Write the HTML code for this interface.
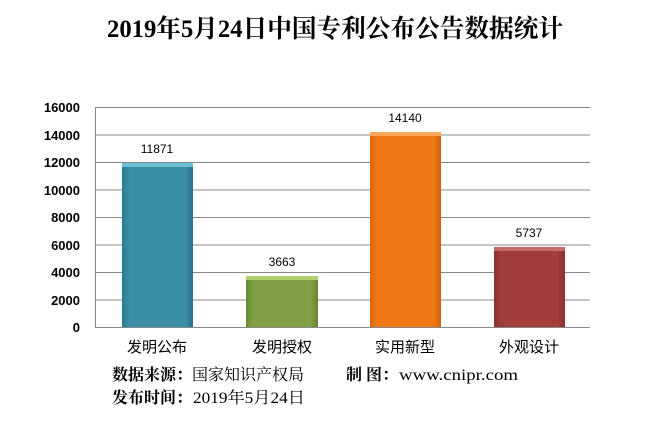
<!DOCTYPE html>
<html><head><meta charset="utf-8"><style>
body{margin:0;background:#fff;}
</style></head><body>
<svg width="650" height="426" xmlns="http://www.w3.org/2000/svg" style="display:block">
<defs>
<linearGradient id="b" x1="0" x2="1"><stop offset="0" stop-color="#2a7a90"/><stop offset=".1" stop-color="#3a8ea6"/><stop offset=".9" stop-color="#3a8ea6"/><stop offset="1" stop-color="#2a7185"/></linearGradient>
<linearGradient id="g" x1="0" x2="1"><stop offset="0" stop-color="#6a8a32"/><stop offset=".1" stop-color="#80a043"/><stop offset=".9" stop-color="#80a043"/><stop offset="1" stop-color="#66832f"/></linearGradient>
<linearGradient id="o" x1="0" x2="1"><stop offset="0" stop-color="#d8650d"/><stop offset=".1" stop-color="#f07814"/><stop offset=".9" stop-color="#f07814"/><stop offset="1" stop-color="#d0600c"/></linearGradient>
<linearGradient id="r" x1="0" x2="1"><stop offset="0" stop-color="#8a3030"/><stop offset=".1" stop-color="#a13d3b"/><stop offset=".9" stop-color="#a13d3b"/><stop offset="1" stop-color="#873030"/></linearGradient>
</defs>
<text x="335" y="37" text-anchor="middle" font-family="'Liberation Serif','Noto Serif CJK SC',serif" font-weight="bold" font-size="25" fill="#000" textLength="456" lengthAdjust="spacingAndGlyphs">2019年5月24日中国专利公布公告数据统计</text>
<g stroke="#888" stroke-width="1">
<line x1="95" y1="107.5" x2="590" y2="107.5"/>
<line x1="95" y1="135" x2="590" y2="135"/>
<line x1="95" y1="162.5" x2="590" y2="162.5"/>
<line x1="95" y1="190" x2="590" y2="190"/>
<line x1="95" y1="217.5" x2="590" y2="217.5"/>
<line x1="95" y1="245" x2="590" y2="245"/>
<line x1="95" y1="272.5" x2="590" y2="272.5"/>
<line x1="95" y1="300" x2="590" y2="300"/>
<line x1="95" y1="327.5" x2="590" y2="327.5"/>
<line x1="95.5" y1="107" x2="95.5" y2="328"/>
</g>
<g font-family="'Liberation Sans',sans-serif" font-weight="bold" font-size="13" text-anchor="end" fill="#000">
<text x="80" y="112">16000</text><text x="80" y="140">14000</text><text x="80" y="167">12000</text><text x="80" y="195">10000</text><text x="80" y="222">8000</text><text x="80" y="250">6000</text><text x="80" y="277">4000</text><text x="80" y="305">2000</text><text x="80" y="332">0</text>
</g>
<rect x="122" y="163" width="71" height="164" fill="url(#b)"/><rect x="122" y="163" width="71" height="4" fill="#6cc0d6"/>
<rect x="246" y="276" width="72" height="51" fill="url(#g)"/><rect x="246" y="276" width="72" height="4" fill="#b0d070"/>
<rect x="370" y="132" width="71" height="195" fill="url(#o)"/><rect x="370" y="132" width="71" height="4" fill="#f9a55a"/>
<rect x="494" y="247" width="71" height="80" fill="url(#r)"/><rect x="494" y="247" width="71" height="4" fill="#c86c6a"/>
<g font-family="'Liberation Sans',sans-serif" font-size="12" text-anchor="middle" fill="#000">
<text x="157" y="153">11871</text><text x="282" y="266">3663</text><text x="405" y="122">14140</text><text x="529" y="237">5737</text>
</g>
<g font-family="'Liberation Sans','Noto Sans CJK SC',sans-serif" font-size="15" text-anchor="middle" fill="#000">
<text x="157" y="352">发明公布</text><text x="282" y="352">发明授权</text><text x="405" y="352">实用新型</text><text x="529" y="352">外观设计</text>
</g>
<g font-family="'Liberation Serif','Noto Serif CJK SC',serif" font-size="16" fill="#000">
<text x="112" y="380"><tspan font-weight="bold">数据来源：</tspan>国家知识产权局</text>
<text x="346" y="380" font-weight="bold">制 图：</text>
<text x="399" y="380" textLength="119" lengthAdjust="spacingAndGlyphs">www.cnipr.com</text>
<text x="112" y="403" font-weight="bold">发布时间：</text>
<text x="193" y="403" textLength="112" lengthAdjust="spacingAndGlyphs">2019年5月24日</text>
</g>
</svg>
</body></html>
